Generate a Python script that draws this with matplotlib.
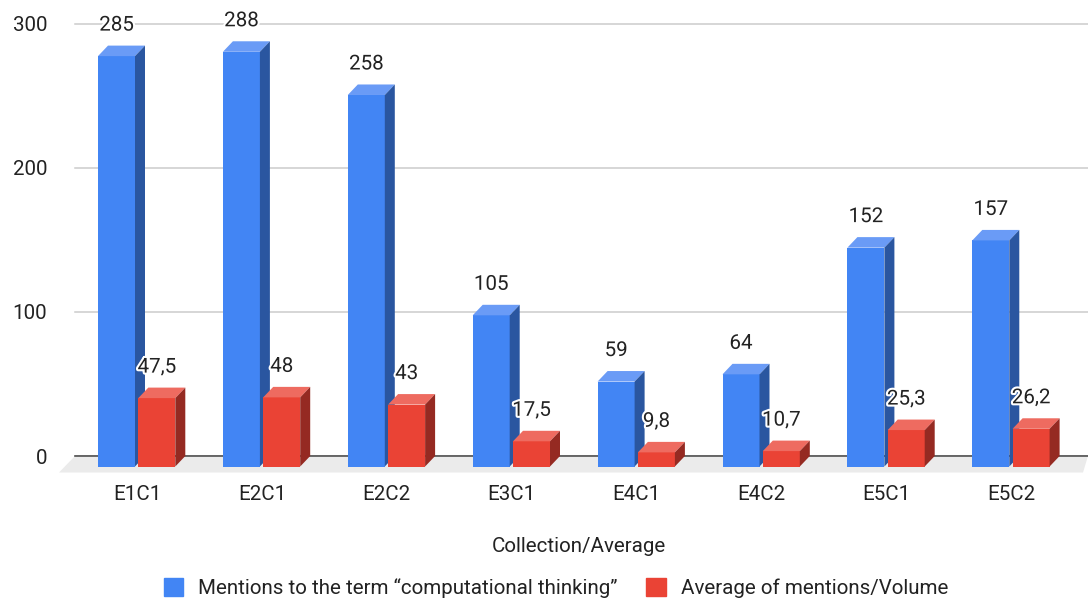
#!/usr/bin/env python3
"""Pseudo-3D grouped bars: mentions of computational thinking per collection."""

import matplotlib
matplotlib.use('Agg')  # Non-interactive backend
import matplotlib.pyplot as plt
import matplotlib.patheffects as pe
from matplotlib.patches import Patch, Polygon
import numpy as np

categories = ['E1C1', 'E2C1', 'E2C2', 'E3C1', 'E4C1', 'E4C2', 'E5C1', 'E5C2']
mentions = [285, 288, 258, 105, 59, 64, 152, 157]
averages = [47.5, 48, 43, 17.5, 9.8, 10.7, 25.3, 26.2]
average_labels = ['47,5', '48', '43', '17,5', '9,8', '10,7', '25,3', '26,2']
y_ticks = [0, 100, 200, 300]

mentions_name = 'Mentions to the term “computational thinking”'
averages_name = 'Average of mentions/Volume'

W, H = 1088, 599
PX_X = 1 / 124.9  # data units per pixel, x
PX_Y = 100 / 144  # data units per pixel, y
DEPTH_X = 10 * PX_X
DEPTH_Y = 10.5 * PX_Y
BAR_W = 37 * PX_X

plt.rcParams['font.family'] = ['Roboto', 'DejaVu Sans']
TEXT = '#222222'
FS = 14.8


def draw_bars(ax, x, values, labels, front, top, side, z):
    """Front faces through ax.bar, then the top and side faces of each box."""
    ax.bar(x, values, BAR_W, bottom=-DEPTH_Y, align='edge', color=front, zorder=z)
    for x0, v, lab in zip(x, values, labels):
        x1 = x0 + BAR_W
        y1 = v - DEPTH_Y
        ax.add_patch(Polygon([(x0, y1), (x1, y1), (x1 + DEPTH_X, v), (x0 + DEPTH_X, v)],
                             color=top, lw=0, zorder=z))
        ax.add_patch(Polygon([(x1, -DEPTH_Y), (x1 + DEPTH_X, 0), (x1 + DEPTH_X, v), (x1, y1)],
                             color=side, lw=0, zorder=z))
        # label sits about 31px above the front top edge
        ax.text(x0 + BAR_W / 2, y1 + 31 * PX_Y, lab, ha='center', va='center',
                fontsize=FS, color=TEXT, zorder=6,
                path_effects=[pe.withStroke(linewidth=3, foreground='white')])


fig = plt.figure(figsize=(W / 100, H / 100), dpi=100)
ax = fig.add_axes([75 / W, 1 - 456 / H, (W - 75) / W, 432 / H])
ax.set_xlim(-62 * PX_X, (W - 137) * PX_X)
ax.set_ylim(0, 300)

ax.set_axisbelow(True)
ax.grid(axis='y', color='#cccccc', linewidth=1.1, zorder=0.5, clip_on=False)
ax.axhline(0, color='#444444', linewidth=1.1, zorder=1.5, clip_on=False)

# floor under the bars
floor = 16 * PX_X
ax.add_patch(Polygon([(ax.get_xlim()[0], 0), (ax.get_xlim()[1], 0),
                      (ax.get_xlim()[1] - 5 * PX_X, -16.5 * PX_Y),
                      (ax.get_xlim()[0] - floor, -16.5 * PX_Y)],
                     color='#ebebeb', lw=0, zorder=1, clip_on=False))

pos = np.arange(len(categories))
draw_bars(ax, pos - 39 * PX_X, mentions, [str(v) for v in mentions],
          '#4285f4', '#6a9bf6', '#2a56a0', 3)
draw_bars(ax, pos + 1.3 * PX_X, averages, average_labels,
          '#ea4335', '#ee6b60', '#952a22', 4)
for p in ax.patches + ax.texts:
    p.set_clip_on(False)

ax.set_xticks(pos)
ax.set_xticklabels(categories)
ax.set_yticks(y_ticks)
ax.tick_params(axis='x', length=0, pad=21, labelsize=FS, labelcolor=TEXT)
ax.tick_params(axis='y', length=0, pad=20, labelsize=FS, labelcolor=TEXT)
ax.set_xlabel('Collection/Average', fontsize=FS, color=TEXT, labelpad=24, x=0.4975)
for side_name in ax.spines:
    ax.spines[side_name].set_visible(False)

handles = [Patch(color='#4285f4', label=mentions_name),
           Patch(color='#ea4335', label=averages_name)]
fig.legend(handles=handles, loc='center', bbox_to_anchor=(556 / W, 1 - 588 / H),
           ncol=2, frameon=False, fontsize=FS, labelcolor=TEXT, borderpad=0,
           handlelength=0.97, handleheight=0.97, handletextpad=0.73, columnspacing=1.37)

plt.savefig('out.png', dpi=100)
plt.close()
